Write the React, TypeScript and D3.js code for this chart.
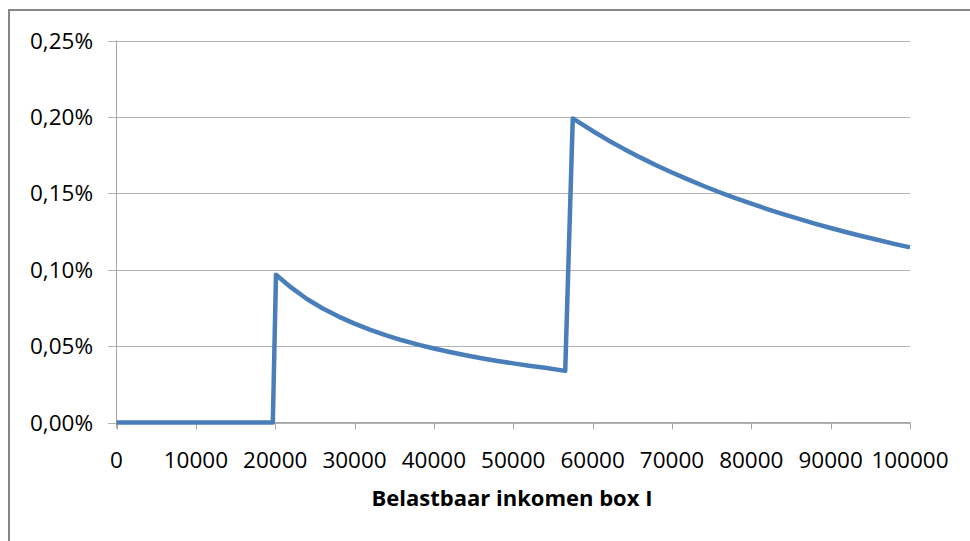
import React from 'react';
import * as d3 from 'd3';

// income (x) and tax share in % (y)
const incomes = [0, 19700, 20100, 22000, 24000, 26000, 28000, 30000, 32000, 34000, 36000, 38000, 40000, 42000, 44000, 46000, 48000, 50000, 52000, 54000, 56550, 57500, 60000, 62000, 64000, 66000, 68000, 70000, 72000, 74000, 76000, 78000, 80000, 82000, 84000, 86000, 88000, 90000, 92000, 94000, 96000, 98000, 100000];
const shares = [0, 0, 0.0967, 0.0884, 0.0808, 0.0746, 0.0693, 0.0647, 0.0606, 0.057, 0.0538, 0.051, 0.0484, 0.0461, 0.044, 0.0421, 0.0403, 0.0387, 0.0372, 0.0358, 0.0338, 0.199, 0.1908, 0.1846, 0.1789, 0.1735, 0.1684, 0.1636, 0.1591, 0.1548, 0.1507, 0.1468, 0.1432, 0.1397, 0.1364, 0.1332, 0.1302, 0.1273, 0.1245, 0.1219, 0.1194, 0.1169, 0.1146];

const xTicks = [0, 10000, 20000, 30000, 40000, 50000, 60000, 70000, 80000, 90000, 100000];
const yTicks = [0, 0.05, 0.1, 0.15, 0.2, 0.25];
const xTitle = 'Belastbaar inkomen box I';

const FONT = '"Open Sans", "Liberation Sans", sans-serif';

export default function App() {
  const width = 970;
  const height = 541;

  const x = d3.scaleLinear().domain([0, 100000]).range([116.5, 910]);
  const y = d3.scaleLinear().domain([0, 0.25]).range([422.5, 40.5]);

  const points: [number, number][] = incomes.map((v, i) => [v, shares[i]]);
  const line = d3.line<[number, number]>()
    .x(d => x(d[0]))
    .y(d => y(d[1]));

  const fmt = (v: number) => v.toFixed(2).replace('.', ',') + '%';

  return (
    <svg width={width} height={height} style={{ position: 'absolute', left: 0, top: 0, background: '#fff' }}>
      {/* chart frame, runs off the right and bottom */}
      <rect x={9} y={10} width={1000} height={600} fill="#fff" stroke="#868686" strokeWidth={2} />

      {/* gridlines + y ticks */}
      {yTicks.map(t => (
        <g key={t}>
          <line x1={108} x2={x(100000)} y1={Math.round(y(t)) + 0.5} y2={Math.round(y(t)) + 0.5} stroke="#b3b3b3" strokeWidth={1} />
          <text x={93} y={y(t)} dy="0.36em" textAnchor="end" fontFamily={FONT} fontSize={22.5} fill="#000">
            {fmt(t)}
          </text>
        </g>
      ))}

      {/* y axis */}
      <line x1={116.5} x2={116.5} y1={y(0.25)} y2={y(0) + 6} stroke="#a6a6a6" strokeWidth={1} />

      {/* x ticks */}
      {xTicks.map(t => (
        <g key={t}>
          <line x1={Math.round(x(t)) + 0.5} x2={Math.round(x(t)) + 0.5} y1={y(0)} y2={y(0) + 7} stroke="#a6a6a6" strokeWidth={1} />
          <text x={x(t)} y={468} textAnchor="middle" fontFamily={FONT} fontSize={22.5} fill="#000">
            {t}
          </text>
        </g>
      ))}
      <line x1={116.5} x2={x(100000)} y1={y(0)} y2={y(0)} stroke="#a6a6a6" strokeWidth={1} />

      <path d={line(points) || ''} fill="none" stroke="#4a7ebb" strokeWidth={4.5} strokeLinejoin="round" />

      <text x={512} y={506} textAnchor="middle" fontFamily={FONT} fontSize={22} fontWeight="bold" fill="#000">
        {xTitle}
      </text>
    </svg>
  );
}
